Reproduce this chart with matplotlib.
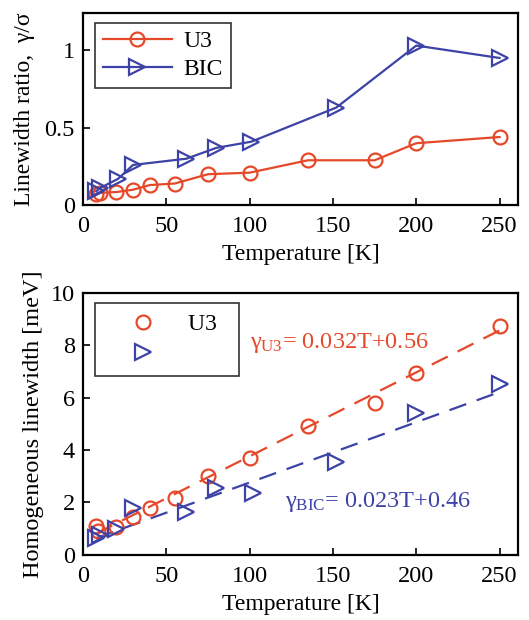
import matplotlib.pyplot as plt
import numpy as np

plt.rcParams["font.family"] = ["Liberation Serif", "DejaVu Serif"]
plt.rcParams["mathtext.fontset"] = "custom"
plt.rcParams["mathtext.rm"] = "Liberation Serif"
plt.rcParams["mathtext.it"] = "Liberation Serif"
plt.rcParams["xtick.direction"] = "in"
plt.rcParams["ytick.direction"] = "in"
plt.rcParams["axes.linewidth"] = 1.6

RED = "#e6482a"
BLUE = "#3d43a6"

# linewidth ratio gamma/sigma
t_u3_ratio = [8, 10, 20, 30, 40, 55, 75, 100, 135, 175, 200, 250]
u3_ratio = [0.07, 0.08, 0.085, 0.10, 0.13, 0.14, 0.20, 0.21, 0.29, 0.29, 0.40, 0.44]
t_bic_ratio = [8, 10, 21, 30, 62, 80, 101, 152, 200, 250]
bic_ratio = [0.09, 0.11, 0.17, 0.26, 0.30, 0.37, 0.41, 0.63, 1.03, 0.95]

# homogeneous linewidth [meV]
t_u3_hom = [8, 9, 20, 30, 40, 55, 75, 100, 135, 175, 200, 250]
u3_hom = [1.10, 0.90, 1.08, 1.46, 1.78, 2.16, 2.99, 3.69, 4.90, 5.79, 6.93, 8.74]
t_bic_hom = [8, 10, 20, 30, 62, 80, 102, 152, 200, 250]
bic_hom = [0.64, 0.75, 1.00, 1.78, 1.65, 2.54, 2.35, 3.56, 5.41, 6.52]

# linear fits: slope, intercept
fit_u3 = (0.032, 0.56)
fit_bic = (0.023, 0.46)

fig = plt.figure(figsize=(5.29, 6.20), dpi=100)
ax1 = fig.add_axes([0.157, 0.669, 0.822, 0.310])
ax2 = fig.add_axes([0.157, 0.105, 0.822, 0.423])

ax1.plot(t_u3_ratio, u3_ratio, "-o", color=RED, mfc="none", mew=1.6, ms=10, lw=1.6, label="U3")
ax1.plot(t_bic_ratio, bic_ratio, "->", color=BLUE, mfc="none", mew=1.6, ms=11, lw=1.6, label="BIC")
ax1.set_xlim(0, 261)
ax1.set_ylim(0, 1.24)
ax1.set_xticks([0, 50, 100, 150, 200, 250])
ax1.set_yticks([0, 0.5, 1])
ax1.set_yticklabels(["0", "0.5", "1"])
ax1.set_xlabel("Temperature [K]", fontsize=17, labelpad=5)
ax1.set_ylabel("Linewidth ratio,  γ/σ", fontsize=17, labelpad=7)
leg1 = ax1.legend(loc="upper left", bbox_to_anchor=(0.027, 0.95), fontsize=17,
                  frameon=True, fancybox=False, edgecolor="black",
                  handlelength=2.9, handletextpad=0.5, borderpad=0.35,
                  labelspacing=0.25, borderaxespad=0)
leg1.get_frame().set_linewidth(1.2)

tt = np.linspace(8, 250, 50)
ax2.plot(tt, fit_u3[0] * tt + fit_u3[1], "--", color=RED, lw=1.6, dashes=(8, 5))
ax2.plot(tt, fit_bic[0] * tt + fit_bic[1], "--", color=BLUE, lw=1.6, dashes=(8, 5))
ax2.plot(t_u3_hom, u3_hom, "o", color=RED, mfc="none", mew=1.6, ms=10, label="U3  ")
ax2.plot(t_bic_hom, bic_hom, ">", color=BLUE, mfc="none", mew=1.6, ms=11, label=" ")
ax2.set_xlim(0, 261)
ax2.set_ylim(0, 10)
ax2.set_xticks([0, 50, 100, 150, 200, 250])
ax2.set_yticks([0, 2, 4, 6, 8, 10])
ax2.set_xlabel("Temperature [K]", fontsize=17, labelpad=5)
ax2.set_ylabel("Homogeneous linewidth [meV]", fontsize=17.5, labelpad=5)
leg2 = ax2.legend(loc="upper left", bbox_to_anchor=(0.027, 0.96), fontsize=17,
                  frameon=True, fancybox=False, edgecolor="black",
                  handlelength=3.2, handletextpad=0.3, borderpad=0.45,
                  labelspacing=0.35, borderaxespad=0)
leg2.get_frame().set_linewidth(1.2)

ax2.text(100, 7.9, r"$\gamma_{\rm U3}$= 0.032T+0.56", color=RED, fontsize=17.5, va="baseline")
ax2.text(121, 1.83, r"$\gamma_{\rm BIC}$= 0.023T+0.46", color=BLUE, fontsize=17.5, va="baseline")

for ax in (ax1, ax2):
    ax.tick_params(labelsize=17.5, length=5, width=1.2, pad=6, top=False, right=False)
    ax.tick_params(axis="x", pad=8)

fig.savefig("out.png", dpi=100)
